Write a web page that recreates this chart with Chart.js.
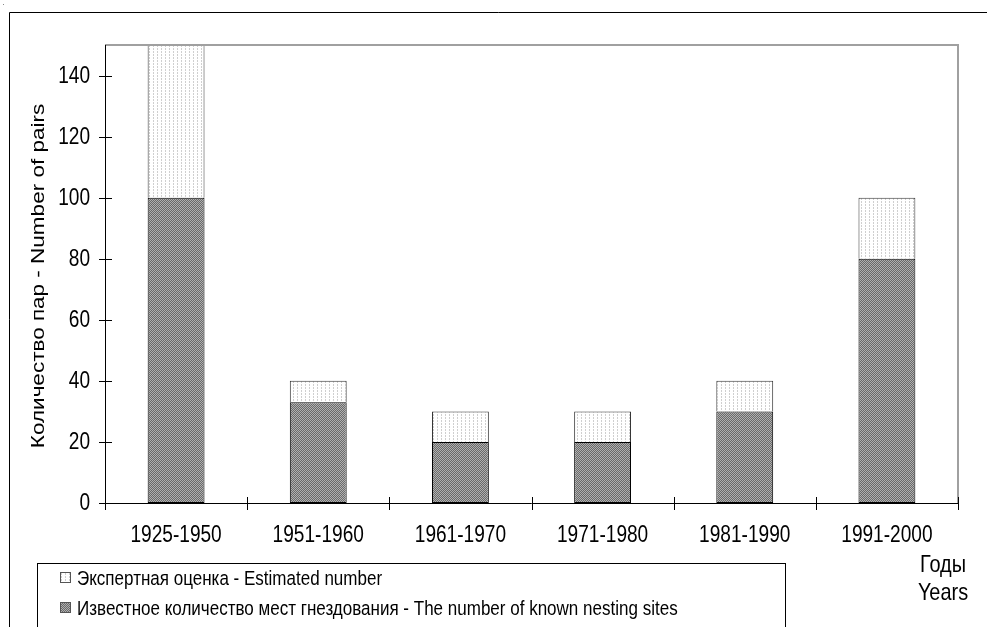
<!DOCTYPE html>
<html>
<head>
<meta charset="utf-8">
<script src="https://cdn.jsdelivr.net/npm/chart.js@4.4.0/dist/chart.umd.min.js"></script>
<style>
  html, body { margin: 0; padding: 0; background: #fff; }
  #wrap { position: relative; width: 987px; height: 627px; }
</style>
</head>
<body>
<div id="wrap"><canvas id="chart" width="987" height="627"></canvas></div>
<script>
// --- data ---
const periods = ['1925-1950', '1951-1960', '1961-1970', '1971-1980', '1981-1990', '1991-2000'];
const knownSites = [100, 33, 20, 20, 30, 80];     // dark part
const estimatedExtra = [50, 7, 10, 10, 10, 20];   // light part stacked on top
const yTicks = [0, 20, 40, 60, 80, 100, 120, 140];

const labelKnown = 'Известное количество мест гнездования - The number of known nesting sites';
const labelEstimated = 'Экспертная оценка - Estimated number';
const FONT = '"Liberation Sans", Arial, sans-serif';
const SQUEEZE = 0.83; // the original text is narrow, squashed sideways

// fill patterns like the old spreadsheet ones
function makePattern(kind) {
    const c = document.createElement('canvas');
    const ctx = c.getContext('2d');
    if (kind === 'dark') {
        c.width = 4; c.height = 4;
        ctx.fillStyle = '#6a6a6a'; ctx.fillRect(0, 0, 4, 4);
        ctx.fillStyle = '#b0b0b0';
        ctx.fillRect(0, 0, 1, 1); ctx.fillRect(2, 0, 1, 1);
        ctx.fillRect(1, 1, 1, 1); ctx.fillRect(3, 1, 1, 1);
        ctx.fillRect(0, 2, 1, 1); ctx.fillRect(2, 2, 1, 1);
        ctx.fillRect(1, 3, 1, 1); ctx.fillRect(3, 3, 1, 1);
    } else {
        c.width = 4; c.height = 3;
        ctx.fillStyle = '#ffffff'; ctx.fillRect(0, 0, 4, 3);
        ctx.fillStyle = '#cfcfcf'; ctx.fillRect(1, 0, 1, 2);
    }
    return document.getElementById('chart').getContext('2d').createPattern(c, 'repeat');
}
const darkFill = makePattern('dark');
const lightFill = makePattern('light');

// text narrowed horizontally
function narrowText(ctx, txt, x, y, size, align, rotate) {
    ctx.save();
    ctx.translate(x, y);
    if (rotate) ctx.rotate(-Math.PI / 2);
    if (rotate) ctx.scale(1, SQUEEZE); else ctx.scale(SQUEEZE, 1);
    ctx.font = size + 'px ' + FONT;
    ctx.textAlign = align;
    ctx.textBaseline = 'middle';
    ctx.fillStyle = '#000';
    ctx.fillText(txt, 0, 0);
    ctx.restore();
}

// frame, plot box, crossing ticks, axis titles and the boxed legend
const decorations = {
    id: 'decorations',
    beforeDraw(chart) {
        const ctx = chart.ctx;
        ctx.save();
        ctx.fillStyle = '#fff';
        ctx.fillRect(0, 0, chart.width, chart.height);
        ctx.restore();
    },
    afterDraw(chart) {
        const { ctx, chartArea: a, scales: { x, y } } = chart;
        ctx.save();
        // outer frame
        ctx.strokeStyle = '#000'; ctx.lineWidth = 1;
        ctx.beginPath();
        ctx.moveTo(9.5, 627); ctx.lineTo(9.5, 12.5); ctx.lineTo(987, 12.5);
        ctx.stroke();
        ctx.fillStyle = '#888'; ctx.fillRect(3, 4, 1, 1);

        // grey top/right of plot box
        ctx.strokeStyle = '#a0a0a0'; ctx.lineWidth = 2;
        ctx.beginPath();
        ctx.moveTo(a.left, a.top); ctx.lineTo(a.right, a.top); ctx.lineTo(a.right, a.bottom);
        ctx.stroke();

        // axes
        ctx.strokeStyle = '#000'; ctx.lineWidth = 1;
        ctx.beginPath();
        ctx.moveTo(Math.round(a.left) + 0.5, a.top); ctx.lineTo(Math.round(a.left) + 0.5, a.bottom);
        ctx.moveTo(a.left, Math.round(a.bottom) + 0.5); ctx.lineTo(a.right, Math.round(a.bottom) + 0.5);
        // y ticks crossing the axis
        yTicks.forEach(v => {
            const py = Math.round(y.getPixelForValue(v)) + 0.5;
            ctx.moveTo(a.left - 6, py); ctx.lineTo(a.left + 7, py);
        });
        // x ticks between categories
        for (let i = 0; i <= periods.length; i++) {
            const px = Math.round(x.getPixelForValue(i - 0.5)) + 0.5;
            ctx.moveTo(px, a.bottom - 6); ctx.lineTo(px, a.bottom + 7);
        }
        ctx.stroke();

        // y tick labels
        yTicks.forEach(v => narrowText(ctx, String(v), a.left - 15, y.getPixelForValue(v) + 1, 23, 'right'));
        // x tick labels
        chart.data.labels.forEach((lab, i) => narrowText(ctx, lab, x.getPixelForValue(i), a.bottom + 33, 23, 'center'));

        // x axis title
        narrowText(ctx, 'Годы', 943, 565, 24, 'center');
        narrowText(ctx, 'Years', 943, 593, 24, 'center');

        // y axis title
        narrowText(ctx, 'Количество пар - Number of pairs', 39, (a.top + a.bottom) / 2 + 2, 22.5, 'center', true);

        // legend box
        ctx.strokeStyle = '#000'; ctx.lineWidth = 1;
        ctx.strokeRect(37.5, 563.5, 748, 70);
        const items = [[labelEstimated, lightFill, 578], [labelKnown, darkFill, 608]];
        items.forEach(([txt, fill, cy]) => {
            ctx.fillStyle = fill;
            ctx.fillRect(60, cy - 6, 11, 11);
            ctx.strokeStyle = '#555';
            ctx.strokeRect(60.5, cy - 5.5, 10, 10);
            narrowText(ctx, txt, 77, cy + 1, 20.5, 'left');
        });
        ctx.restore();
    }
};

new Chart(document.getElementById('chart'), {
    type: 'bar',
    data: {
        labels: periods,
        datasets: [
            {
                label: labelKnown,
                data: knownSites,
                backgroundColor: darkFill,
                borderColor: '#000',
                borderWidth: 1,
                borderSkipped: false,
                barPercentage: 0.4,
                categoryPercentage: 1.0
            },
            {
                label: labelEstimated,
                data: estimatedExtra,
                backgroundColor: lightFill,
                borderColor: '#333',
                borderWidth: 1,
                borderSkipped: 'bottom',
                barPercentage: 0.4,
                categoryPercentage: 1.0
            }
        ]
    },
    options: {
        responsive: false,
        animation: false,
        events: [],
        layout: { padding: { left: 0, top: 45, right: 29, bottom: 0 } },
        plugins: {
            legend: { display: false },
            tooltip: { enabled: false }
        },
        scales: {
            x: {
                stacked: true,
                grid: { display: false, drawTicks: false },
                border: { display: false },
                ticks: { display: false },
                afterFit(s) { s.height = 124; }
            },
            y: {
                stacked: true,
                min: 0,
                max: 150,
                grid: { display: false, drawTicks: false },
                border: { display: false },
                ticks: { display: false, stepSize: 20 },
                afterFit(s) { s.width = 105; }
            }
        }
    },
    plugins: [decorations]
});
</script>
</body>
</html>
